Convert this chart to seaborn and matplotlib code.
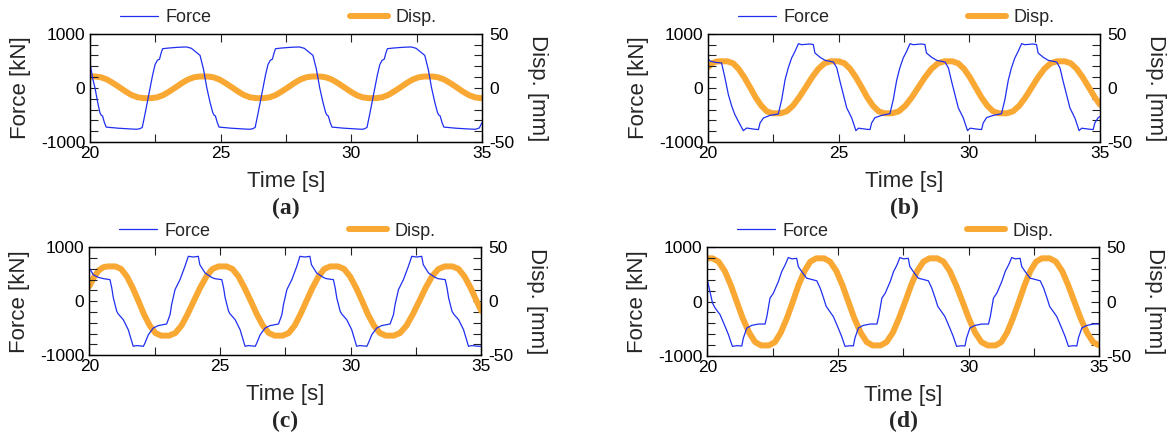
import matplotlib
matplotlib.use("Agg")
import matplotlib.pyplot as plt
from matplotlib.lines import Line2D
from matplotlib.ticker import MultipleLocator, FixedLocator
import seaborn as sns

# ---------------- data ----------------
# Panel (a)
a_force_t = [20.00, 20.10, 20.19, 20.30, 20.38, 20.43, 20.48, 20.55, 20.62, 21.08, 21.58, 21.78,
             21.91, 22.00, 22.10, 22.20, 22.30, 22.40, 22.49, 22.58, 22.66, 22.72, 22.78, 23.00, 23.40, 23.70,
             23.88, 24.02, 24.21, 24.34, 24.47, 24.60, 24.70, 24.75, 24.80, 24.87, 24.94, 25.40, 25.90, 26.10,
             26.23, 26.32, 26.42, 26.52, 26.62, 26.72, 26.81, 26.90, 26.98, 27.04, 27.10, 27.32, 27.72, 28.02,
             28.20, 28.34, 28.53, 28.66, 28.79, 28.92, 29.02, 29.07, 29.12, 29.19, 29.26, 29.72, 30.22, 30.42,
             30.51, 30.60, 30.70, 30.80, 30.90, 31.00, 31.09, 31.18, 31.26, 31.32, 31.38, 31.60, 32.00, 32.30,
             32.48, 32.62, 32.81, 32.94, 33.07, 33.20, 33.30, 33.35, 33.40, 33.47, 33.54, 34.00, 34.50, 34.75,
             34.90, 35.00]
a_force = [460, 180, 0, -280, -460, -505, -520, -640, -725, -745, -760, -765,
           -755, -730, -495, -250, 0, 246, 430, 510, 530, 640, 723, 735, 750, 755,
           730, 675, 600, 350, 0, -280, -460, -505, -520, -640, -725, -745, -760, -765,
           -755, -730, -495, -250, 0, 246, 430, 510, 530, 640, 723, 735, 750, 755,
           730, 675, 600, 350, 0, -280, -460, -505, -520, -640, -725, -745, -760, -765,
           -755, -730, -495, -250, 0, 246, 430, 510, 530, 640, 723, 735, 750, 755,
           730, 675, 600, 350, 0, -280, -460, -505, -520, -640, -725, -745, -760, -765,
           -740, -640]
a_disp_t = [20.00, 20.20, 20.43, 20.66, 20.89, 21.13, 21.36, 21.59, 21.82, 22.05,
            22.35, 22.58, 22.81, 23.04, 23.28, 23.51, 23.74, 23.97, 24.20,
            24.50, 24.73, 24.96, 25.19, 25.43, 25.66, 25.89, 26.12, 26.35,
            26.65, 26.88, 27.11, 27.34, 27.58, 27.81, 28.04, 28.27, 28.50,
            28.80, 29.03, 29.26, 29.49, 29.73, 29.96, 30.19, 30.42, 30.65,
            30.95, 31.18, 31.41, 31.64, 31.88, 32.11, 32.34, 32.57, 32.80,
            33.10, 33.33, 33.56, 33.79, 34.03, 34.26, 34.49, 34.72, 34.95, 35.00]
a_disp = [10.5, 10.5, 9.7, 7.6, 4.3, 0.5, -3.3, -6.6, -8.7, -9.5,
          -9.5, -8.7, -6.6, -3.3, 0.5, 4.3, 7.6, 9.7, 10.5,
          10.5, 9.7, 7.6, 4.3, 0.5, -3.3, -6.6, -8.7, -9.5,
          -9.5, -8.7, -6.6, -3.3, 0.5, 4.3, 7.6, 9.7, 10.5,
          10.5, 9.7, 7.6, 4.3, 0.5, -3.3, -6.6, -8.7, -9.5,
          -9.5, -8.7, -6.6, -3.3, 0.5, 4.3, 7.6, 9.7, 10.5,
          10.5, 9.7, 7.6, 4.3, 0.5, -3.3, -6.6, -8.7, -9.5, -9.5]

# Panel (b)
b_force_t = [20.00, 20.10, 20.30, 20.52, 20.65, 20.78, 20.91, 21.03, 21.16, 21.35, 21.48, 21.80, 21.93,
             21.99, 22.12, 22.37, 22.69, 22.82, 22.95, 23.07, 23.20, 23.33,
             23.46, 23.58, 23.90, 24.03, 24.09, 24.29, 24.48, 24.80, 24.93, 25.05, 25.18, 25.31, 25.50,
             25.66, 25.76, 26.07, 26.20, 26.26, 26.39, 26.65, 26.96, 27.09, 27.22, 27.34, 27.47, 27.60,
             27.73, 27.85, 28.17, 28.30, 28.36, 28.56, 28.75, 29.07, 29.20, 29.32, 29.45, 29.58, 29.77,
             29.93, 30.03, 30.34, 30.47, 30.53, 30.66, 30.92, 31.23, 31.36, 31.49, 31.61, 31.74, 31.87,
             32.00, 32.12, 32.44, 32.57, 32.63, 32.83, 33.02, 33.34, 33.47, 33.59, 33.72, 33.85, 34.04,
             34.20, 34.30, 34.61, 34.74, 34.80, 34.93, 35.00]
b_force = [533, 490, 470, 459, 182, -126, -341, -495, -618, -791, -742, -765, -770,
           -650, -557, -508, -483, -218, 151, 367, 551, 674,
           816, 797, 810, 800, 644, 564, 508, 477, 367, 120, -126, -372, -557,
           -790, -745, -765, -770, -650, -550, -508, -478, -218, 140, 367, 551, 674,
           816, 797, 810, 800, 644, 564, 508, 477, 367, 120, -126, -372, -557,
           -790, -745, -765, -770, -650, -550, -508, -478, -218, 140, 367, 551, 674,
           816, 797, 810, 800, 644, 564, 508, 477, 367, 120, -126, -372, -557,
           -790, -745, -765, -770, -650, -550, -530]
b_disp_t = [20.00, 20.15, 20.30, 20.44, 20.74, 20.96, 21.17, 21.39, 21.61, 21.82, 22.04, 22.25, 22.47,
            22.77, 23.01, 23.25, 23.49, 23.74, 23.98, 24.22, 24.46, 24.70,
            25.00, 25.22, 25.44, 25.66, 25.88, 26.09, 26.31, 26.53, 26.75,
            27.05, 27.30, 27.55, 27.80, 28.05, 28.30, 28.55, 28.80, 29.05,
            29.35, 29.57, 29.80, 30.02, 30.24, 30.46, 30.69, 30.91, 31.13,
            31.43, 31.67, 31.91, 32.15, 32.39, 32.63, 32.87, 33.11, 33.35,
            33.65, 33.88, 34.11, 34.34, 34.57, 34.80, 35.00]
b_disp = [19.0, 22.6, 24.2, 24.5, 24.5, 22.7, 17.5, 9.7, 0.5, -8.7, -16.5, -21.7, -23.5,
          -23.5, -21.7, -16.5, -8.7, 0.5, 9.7, 17.5, 22.7, 24.5,
          24.5, 22.7, 17.5, 9.7, 0.5, -8.7, -16.5, -21.7, -23.5,
          -23.5, -21.7, -16.5, -8.7, 0.5, 9.7, 17.5, 22.7, 24.5,
          24.5, 22.7, 17.5, 9.7, 0.5, -8.7, -16.5, -21.7, -23.5,
          -23.5, -21.7, -16.5, -8.7, 0.5, 9.7, 17.5, 22.7, 24.5,
          24.5, 22.7, 17.5, 9.7, 0.5, -8.7, -15.5]

# Panel (c)
c_force_t = [20.00, 20.15, 20.34, 20.54, 20.79, 20.86, 20.92, 21.05, 21.11, 21.30, 21.49, 21.68, 21.81,
             22.07, 22.13, 22.26, 22.45, 22.64, 22.96, 23.09, 23.15, 23.28, 23.47, 23.66,
             23.79, 23.98, 24.17, 24.23, 24.43, 24.68, 24.79, 25.07, 25.14, 25.20, 25.33, 25.39, 25.58,
             25.77, 25.96, 26.09, 26.35, 26.41, 26.54, 26.73, 26.92, 27.24, 27.37, 27.43, 27.56, 27.75, 27.94,
             28.06, 28.25, 28.44, 28.50, 28.70, 28.95, 29.06, 29.34, 29.41, 29.47, 29.60, 29.66, 29.85,
             30.04, 30.23, 30.36, 30.62, 30.68, 30.81, 31.00, 31.19, 31.51, 31.64, 31.70, 31.83, 32.02, 32.21,
             32.34, 32.53, 32.72, 32.78, 32.98, 33.23, 33.34, 33.62, 33.69, 33.75, 33.88, 33.94, 34.13,
             34.32, 34.51, 34.64, 34.90, 35.00]
c_force = [617, 493, 444, 420, 401, 246, 62, -185, -235, -340, -525, -833, -820,
           -833, -772, -618, -494, -450, -420, -247, -62, 216, 401, 648,
           833, 820, 833, 678, 524, 444, 420, 401, 246, 62, -185, -235, -340,
           -525, -833, -820, -833, -772, -618, -494, -450, -420, -247, -62, 216, 401, 648,
           833, 820, 833, 678, 524, 444, 420, 401, 246, 62, -185, -235, -340,
           -525, -833, -820, -833, -772, -618, -494, -450, -420, -247, -62, 216, 401, 648,
           833, 820, 833, 678, 524, 444, 420, 401, 246, 62, -185, -235, -340,
           -525, -833, -820, -833, -830]
c_disp_t = [20.00, 20.18, 20.36, 20.54, 20.70, 21.00, 21.22, 21.44, 21.66, 21.88, 22.09, 22.31, 22.53, 22.75,
            23.05, 23.29, 23.53, 23.76, 24.00, 24.24, 24.48, 24.71, 24.95,
            25.25, 25.48, 25.71, 25.94, 26.18, 26.41, 26.64, 26.87, 27.10,
            27.40, 27.63, 27.86, 28.08, 28.31, 28.54, 28.77, 28.99, 29.22,
            29.52, 29.75, 29.98, 30.21, 30.44, 30.66, 30.89, 31.12, 31.35,
            31.65, 31.89, 32.14, 32.38, 32.63, 32.87, 33.11, 33.36, 33.60,
            33.90, 34.13, 34.36, 34.59, 34.82, 35.00]
c_disp = [13.9, 22.4, 28.6, 31.6, 32.3, 32.3, 29.9, 22.9, 12.5, 0.3, -12.0, -22.4, -29.4, -31.8,
          -31.8, -29.4, -22.4, -12.0, 0.3, 12.5, 22.9, 29.9, 32.3,
          32.3, 29.9, 22.9, 12.5, 0.3, -12.0, -22.4, -29.4, -31.8,
          -31.8, -29.4, -22.4, -12.0, 0.3, 12.5, 22.9, 29.9, 32.3,
          32.3, 29.9, 22.9, 12.5, 0.3, -12.0, -22.4, -29.4, -31.8,
          -31.8, -29.4, -22.4, -12.0, 0.3, 12.5, 22.9, 29.9, 32.3,
          32.3, 29.9, 22.9, 12.5, 0.3, -9.0]

# Panel (d)
d_force_t = [20.00, 20.10, 20.20, 20.30, 20.49, 20.68, 20.81, 20.96, 21.13, 21.32, 21.38, 21.51, 21.70,
             21.95, 22.21, 22.28, 22.40, 22.53, 22.72, 22.85, 22.98,
             23.10, 23.23, 23.42, 23.48, 23.61, 23.80, 24.19, 24.32, 24.45, 24.55, 24.64, 24.82, 25.01,
             25.14, 25.27, 25.46, 25.59, 25.65, 25.78, 25.97, 26.23, 26.49, 26.56, 26.68, 26.81, 27.00,
             27.13, 27.26,
             27.37, 27.50, 27.69, 27.75, 27.88, 28.07, 28.46, 28.59, 28.72, 28.82, 28.91, 29.09, 29.28,
             29.41, 29.54, 29.73, 29.86, 29.92, 30.05, 30.24, 30.50, 30.76, 30.83, 30.95, 31.08, 31.27,
             31.40, 31.53,
             31.65, 31.78, 31.97, 32.03, 32.16, 32.35, 32.74, 32.87, 33.00, 33.10, 33.19, 33.37, 33.56,
             33.69, 33.82, 34.01, 34.14, 34.20, 34.33, 34.52, 34.78, 35.00]
d_force = [402, 188, -28, -120, -243, -458, -612, -827, -815, -820, -673, -489, -440,
           -415, -415, -274, 65, 157, 372, 557, 680,
           815, 790, 800, 649, 557, 434, 384, 249, 65, -89, -151, -274, -489,
           -643, -827, -815, -820, -673, -489, -440, -415, -415, -274, 65, 157, 372,
           557, 680,
           815, 790, 800, 649, 557, 434, 384, 249, 65, -89, -151, -274, -489,
           -643, -827, -815, -820, -673, -489, -440, -415, -415, -274, 65, 157, 372,
           557, 680,
           815, 790, 800, 649, 557, 434, 384, 249, 65, -89, -151, -274, -489,
           -643, -827, -815, -820, -673, -489, -440, -415, -415]
d_disp_t = [20.00, 20.20, 20.43, 20.67, 20.90, 21.13, 21.36, 21.60, 21.83, 22.06,
            22.36, 22.59, 22.81, 23.04, 23.27, 23.49, 23.72, 23.94, 24.17,
            24.47, 24.70, 24.94, 25.17, 25.40, 25.63, 25.87, 26.10, 26.33,
            26.63, 26.86, 27.10, 27.33, 27.57, 27.80, 28.03, 28.27, 28.50,
            28.80, 29.04, 29.28, 29.52, 29.77, 30.01, 30.25, 30.49, 30.73,
            31.03, 31.25, 31.47, 31.69, 31.92, 32.14, 32.36, 32.58, 32.80,
            33.10, 33.34, 33.58, 33.81, 34.05, 34.29, 34.53, 34.76, 35.00]
d_disp = [40.0, 40.0, 36.9, 28.2, 15.2, -0.3, -15.7, -28.7, -37.4, -40.5,
          -40.5, -37.4, -28.7, -15.7, -0.3, 15.2, 28.2, 36.9, 40.0,
          40.0, 36.9, 28.2, 15.2, -0.3, -15.7, -28.7, -37.4, -40.5,
          -40.5, -37.4, -28.7, -15.7, -0.3, 15.2, 28.2, 36.9, 40.0,
          40.0, 36.9, 28.2, 15.2, -0.3, -15.7, -28.7, -37.4, -40.5,
          -40.5, -37.4, -28.7, -15.7, -0.3, 15.2, 28.2, 36.9, 40.0,
          40.0, 36.9, 28.2, 15.2, -0.3, -15.7, -28.7, -37.4, -40.5]

panel_labels = ["(a)", "(b)", "(c)", "(d)"]
x_ticks = [20, 25, 30, 35]
force_ticks = [-1000, 0, 1000]
disp_ticks = [-50, 0, 50]

# ---------------- styling ----------------
sns.set_theme(style="ticks")
plt.rcParams["font.family"] = ["Liberation Sans", "DejaVu Sans"]
plt.rcParams["axes.unicode_minus"] = False

FORCE_COLOR = "#1f2ff0"
DISP_COLOR = "#f9a833"

W, H = 1174, 441
fig = plt.figure(figsize=(W / 100, H / 100), dpi=100)

boxes = [
    (90, 33.7, 392, 108.3),
    (708, 33.7, 392, 108.3),
    (89.3, 247.3, 392, 108.0),
    (707.3, 247.5, 392, 108.2),
]
series = [
    (a_force_t, a_force, a_disp_t, a_disp),
    (b_force_t, b_force, b_disp_t, b_disp),
    (c_force_t, c_force, c_disp_t, c_disp),
    (d_force_t, d_force, d_disp_t, d_disp),
]

for (x0, y0, w, h), (ft, fv, dt, dv), lab in zip(boxes, series, panel_labels):
    ax = fig.add_axes([x0 / W, 1 - (y0 + h) / H, w / W, h / H])
    ax2 = ax.twinx()

    sns.lineplot(x=dt, y=dv, ax=ax2, color=DISP_COLOR, linewidth=4.3,
                 estimator=None, sort=False, legend=False)
    sns.lineplot(x=ft, y=fv, ax=ax, color=FORCE_COLOR, linewidth=0.9,
                 estimator=None, sort=False, legend=False)

    ax.set_zorder(ax2.get_zorder() + 1)
    ax.patch.set_visible(False)

    ax.set_xlim(20, 35)
    ax.set_ylim(-1000, 1000)
    ax2.set_ylim(-50, 50)

    ax.xaxis.set_major_locator(FixedLocator(x_ticks))
    ax.xaxis.set_minor_locator(FixedLocator([22.5, 27.5, 32.5]))
    ax.yaxis.set_major_locator(FixedLocator(force_ticks))
    ax.yaxis.set_minor_locator(MultipleLocator(200))
    ax2.yaxis.set_major_locator(FixedLocator(disp_ticks))
    ax2.yaxis.set_minor_locator(MultipleLocator(10))

    for a in (ax, ax2):
        for sp in a.spines.values():
            sp.set_linewidth(0.9)
            sp.set_color("black")

    ax.tick_params(axis="both", which="both", direction="in", length=5.5, width=0.8,
                   color="#222222", top=True, right=False, labelsize=12.5, labelcolor="black")
    ax.tick_params(axis="y", which="major", pad=3.5)
    ax.tick_params(axis="x", which="major", pad=3.0)
    ax2.tick_params(axis="y", which="both", direction="in", length=5.5, width=0.8,
                    color="#222222", right=True, labelsize=12.5, labelcolor="black", pad=5)

    ax.set_xlabel("Time [s]", fontsize=16, va="center")
    ax.xaxis.set_label_coords(0.5, -0.365)
    ax.set_ylabel("Force [kN]", fontsize=16, va="center")
    ax.yaxis.set_label_coords(-0.177, 0.5)
    ax2.set_ylabel("Disp. [mm]", fontsize=16, rotation=270, va="center")
    ax2.yaxis.set_label_coords(1.142, 0.5)

    ax.text(0.5, -0.61, lab, transform=ax.transAxes, ha="center", va="center",
            fontsize=17, fontweight="bold", family=["Liberation Serif", "DejaVu Serif"])

    handles = [Line2D([], [], color=FORCE_COLOR, linewidth=0.9),
               Line2D([], [], color=DISP_COLOR, linewidth=4.3)]
    ax.legend(handles, ["Force", "Disp."], loc="center", bbox_to_anchor=(0.48, 1.15),
              ncol=2, frameon=False, fontsize=13, handlelength=2.1, handletextpad=0.4,
              columnspacing=7.7, borderaxespad=0, borderpad=0)

fig.savefig("out.png", dpi=100)
